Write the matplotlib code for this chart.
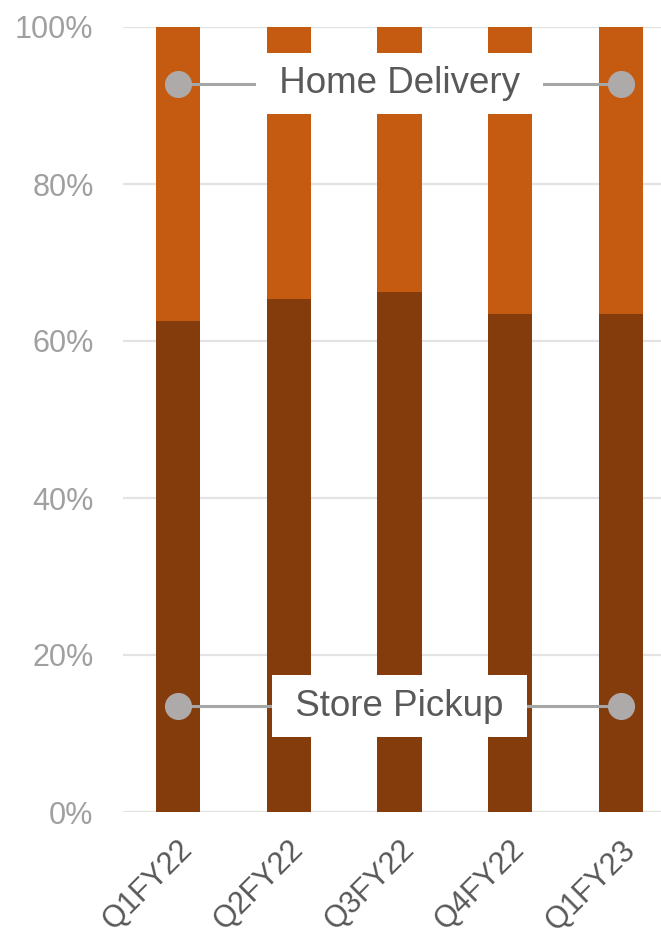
import numpy as np
import matplotlib
matplotlib.use("Agg")
from matplotlib import pyplot as plt
from matplotlib.transforms import ScaledTranslation

plt.rcParams['font.family'] = ['Liberation Sans', 'DejaVu Sans']

# quarterly split of orders by fulfilment channel (share of total)
quarters = ["Q1FY22", "Q2FY22", "Q3FY22", "Q4FY22", "Q1FY23"]
store_pickup = [0.626, 0.654, 0.662, 0.634, 0.635]
home_delivery = [1 - v for v in store_pickup]
yticks = [0, 0.2, 0.4, 0.6, 0.8, 1.0]
ytick_labels = ["0%", "20%", "40%", "60%", "80%", "100%"]

# where the series name labels sit
series_names = ["Store Pickup", "Home Delivery"]
label_levels = [0.135, 0.928]

dark = "#843C0C"
light = "#C55A11"
grey_dot = "#AEAAAA"
grey_line = "#A6A6A6"
text_col = "#595959"

fig = plt.figure(figsize=(6.61, 9.33), dpi=100)
ax = fig.add_axes([122.7/661, 121/933, (676.4-122.7)/661, 785/933])

x = np.arange(len(quarters))
ax.bar(x, store_pickup, width=0.4, color=dark, zorder=2)
ax.bar(x, home_delivery, width=0.4, bottom=store_pickup, color=light, zorder=2)

ax.set_xlim(-0.5, len(quarters) - 0.5)
ax.set_ylim(0, 1)
ax.set_yticks(yticks)
ax.set_yticklabels(ytick_labels, fontsize=22, color="#A0A0A0")
ax.yaxis.grid(True, color="#E3E3E3", lw=1.6, zorder=0)
ax.tick_params(axis='y', length=0, pad=21)
ax.tick_params(axis='x', length=0, pad=24)
for s in ax.spines.values():
    s.set_visible(False)

ax.set_xticks(x)
ax.set_xticklabels(quarters, fontsize=22, color=text_col, rotation=45,
                   ha='right', va='center', rotation_mode='anchor')
shift = ScaledTranslation(0.10, 0, fig.dpi_scale_trans)
for lab in ax.get_xticklabels():
    lab.set_transform(lab.get_transform() + shift)

# connector lines with end dots, name in a white box on top
for name, lvl in zip(series_names, label_levels):
    ax.plot([x[0], x[-1]], [lvl, lvl], color=grey_line, lw=2.2, zorder=3,
            solid_capstyle='butt')
    ax.plot([x[0], x[-1]], [lvl, lvl], ls='none', marker='o', ms=18.5,
            color=grey_dot, zorder=4)
    ax.text(x[len(x)//2], lvl, " " + name + " ", fontsize=26.5, color=text_col,
            ha='center', va='center', zorder=5,
            bbox=dict(boxstyle='square,pad=0.36', fc='white', ec='none'))

fig.savefig("out.png", dpi=100)
